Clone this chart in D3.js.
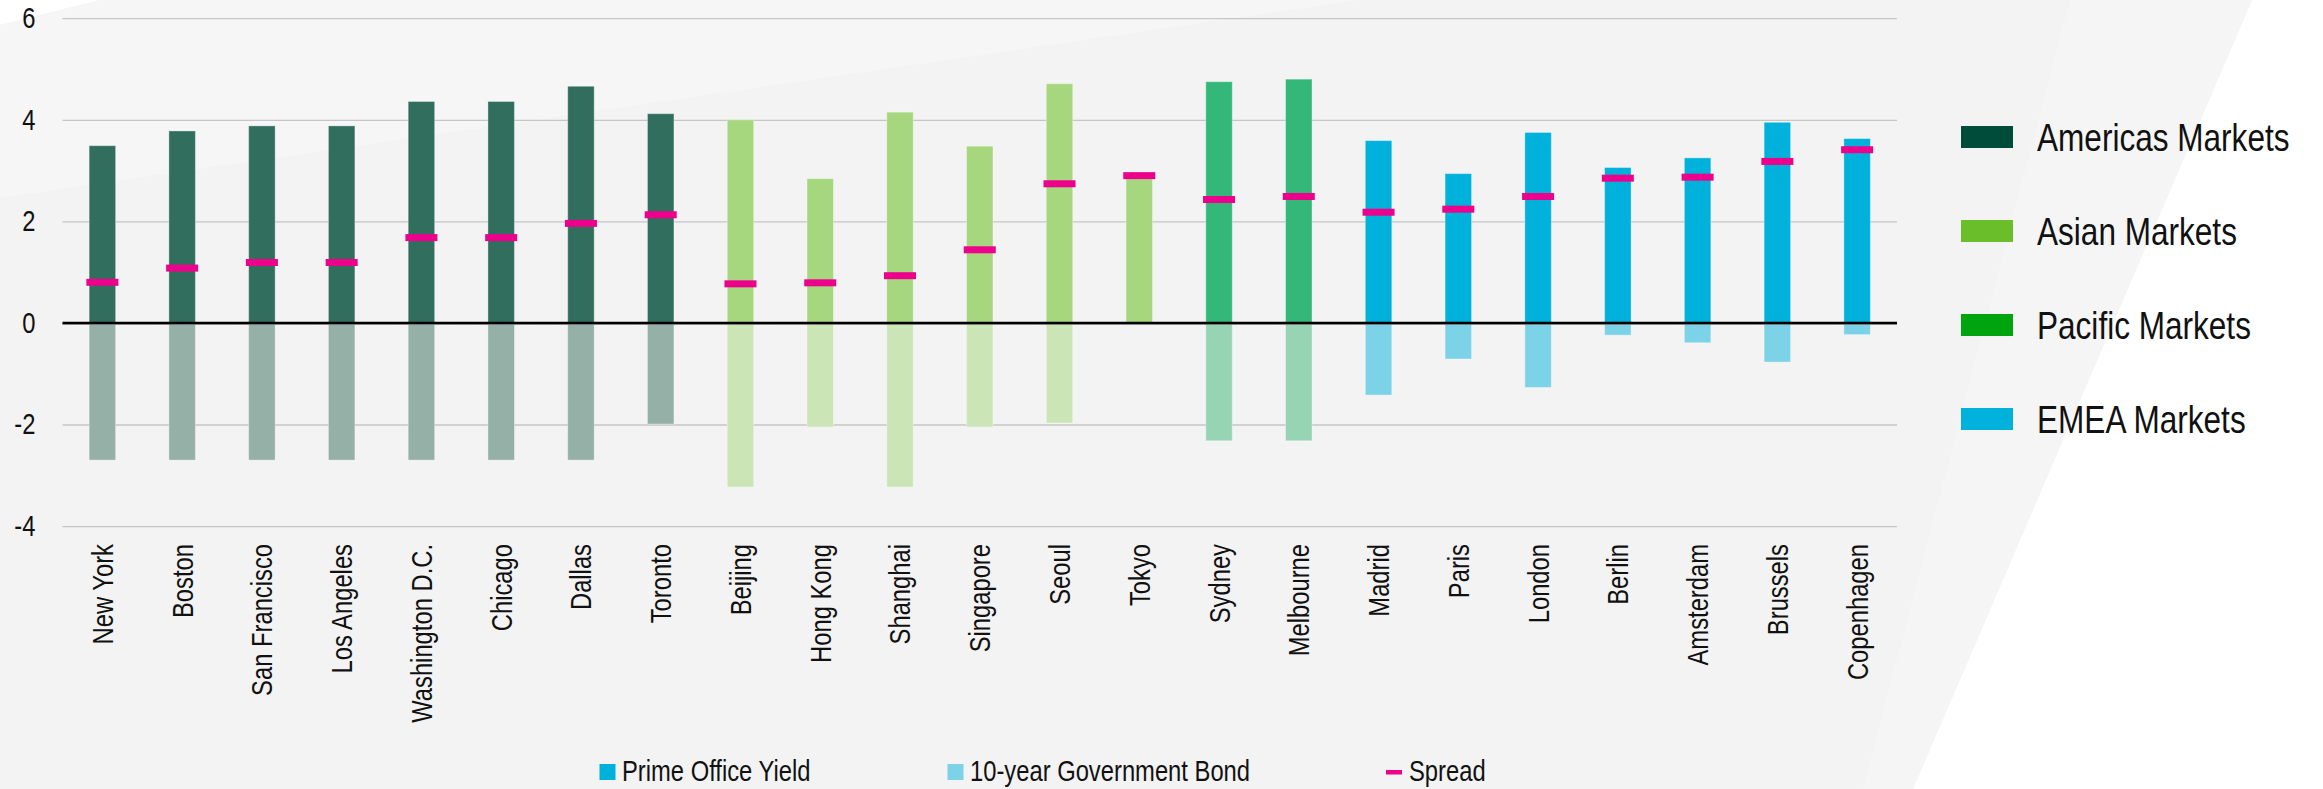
<!DOCTYPE html>
<html>
<head>
<meta charset="utf-8">
<script src="https://cdn.jsdelivr.net/npm/d3@7"></script>
<style>
  html, body { margin: 0; padding: 0; background: #ffffff; }
  svg { display: block; }
  text { font-family: "Liberation Sans", Arial, sans-serif; fill: #111; }
</style>
</head>
<body>
<svg id="chart" width="2323" height="789"></svg>
<script>
// Prime office yields vs 10-year government bonds, by market
const cities = ["New York", "Boston", "San Francisco", "Los Angeles", "Washington D.C.", "Chicago",
  "Dallas", "Toronto", "Beijing", "Hong Kong", "Shanghai", "Singapore", "Seoul", "Tokyo",
  "Sydney", "Melbourne", "Madrid", "Paris", "London", "Berlin", "Amsterdam", "Brussels", "Copenhagen"];
const regions = ["Americas", "Americas", "Americas", "Americas", "Americas", "Americas",
  "Americas", "Americas", "Asian", "Asian", "Asian", "Asian", "Asian", "Asian",
  "Pacific", "Pacific", "EMEA", "EMEA", "EMEA", "EMEA", "EMEA", "EMEA", "EMEA"];
const primeYield = [3.49, 3.78, 3.88, 3.88, 4.36, 4.36, 4.66, 4.12, 4.00, 2.84, 4.15, 3.48, 4.71, 2.90,
  4.75, 4.80, 3.59, 2.94, 3.75, 3.06, 3.25, 3.95, 3.63];
const bondYield = [2.70, 2.70, 2.70, 2.70, 2.70, 2.70, 2.70, 1.99, 3.23, 2.05, 3.23, 2.05, 1.97, 0.00,
  2.32, 2.32, 1.42, 0.71, 1.27, 0.24, 0.39, 0.77, 0.23];
const spread = [0.80, 1.08, 1.19, 1.19, 1.68, 1.68, 1.96, 2.13, 0.77, 0.79, 0.93, 1.44, 2.74, 2.90,
  2.43, 2.49, 2.18, 2.24, 2.49, 2.85, 2.87, 3.18, 3.41];
const yTicks = [-4, -2, 0, 2, 4, 6];

const regionNames = ["Americas", "Asian", "Pacific", "EMEA"];
const regionLabels = ["Americas Markets", "Asian Markets", "Pacific Markets", "EMEA Markets"];
const seriesLabels = ["Prime Office Yield", "10-year Government Bond", "Spread"];

// palette per region: [yield bar, bond bar, legend swatch]
const palette = {
  Americas: ["#326e5e", "#95b0a6", "#004c3a"],
  Asian:    ["#a6d77e", "#cce5b7", "#6abe2a"],
  Pacific:  ["#34b87a", "#96d4b3", "#00a40e"],
  EMEA:     ["#00b1dc", "#7cd2e7", "#00b1dc"]
};
const spreadColor = "#ec008c";
const NARROW = 0.82; // horizontal squeeze for a condensed face

const svg = d3.select("#chart");

// ---- background panels ----
const bg = svg.append("g");
bg.append("rect").attr("width", 2323).attr("height", 789).attr("fill", "#ffffff");
bg.append("path").attr("d", "M0,25 L100,0 L2252,0 L1913,789 L0,789 Z").attr("fill", "#f3f3f3");
bg.append("path").attr("d", "M0,25 L100,0 L1360,0 L0,198 Z").attr("fill", "#f6f6f6");
bg.append("path").attr("d", "M2070,0 L2252,0 L1913,789 L1863,789 Z").attr("fill", "#f5f5f5");

// ---- scales ----
const x = d3.scaleBand().domain(cities).range([62.5, 1897]).paddingInner(0.668).paddingOuter(0.334);
const y = d3.scaleLinear().domain([-4, 6]).range([526.1, 18.2]);

// ---- y axis with gridlines ----
const yAxis = svg.append("g").attr("transform", "translate(62.5,0)")
  .call(d3.axisLeft(y).tickValues(yTicks).tickFormat(d => String(d))
    .tickSizeInner(-(1897 - 62.5)).tickSizeOuter(0).tickPadding(27));
yAxis.select(".domain").remove();
yAxis.selectAll(".tick line").attr("stroke", "#c6c6c6").attr("stroke-width", 1.3);
yAxis.selectAll(".tick text")
  .attr("font-size", 29).attr("font-family", "Liberation Sans, Arial, sans-serif")
  .attr("fill", "#111")
  .attr("x", -27 / NARROW)
  .attr("transform", `scale(${NARROW},1)`);

// ---- bars ----
const idx = d3.range(cities.length);
const bars = svg.append("g");
// bond bars below zero
bars.selectAll("rect.bond").data(idx).join("rect").attr("class", "bond")
  .attr("x", i => x(cities[i]))
  .attr("width", x.bandwidth())
  .attr("y", y(0))
  .attr("height", i => y(-bondYield[i]) - y(0))
  .attr("fill", i => palette[regions[i]][1])
  .attr("stroke", "rgba(255,255,255,0.35)").attr("stroke-width", 1);
// prime yield bars above zero
bars.selectAll("rect.yield").data(idx).join("rect").attr("class", "yield")
  .attr("x", i => x(cities[i]))
  .attr("width", x.bandwidth())
  .attr("y", i => y(primeYield[i]))
  .attr("height", i => y(0) - y(primeYield[i]))
  .attr("fill", i => palette[regions[i]][0])
  .attr("stroke", "rgba(255,255,255,0.35)").attr("stroke-width", 1);

// zero line
svg.append("line")
  .attr("x1", 62.5).attr("x2", 1897)
  .attr("y1", y(0) + 1).attr("y2", y(0) + 1)
  .attr("stroke", "#9a9a9a").attr("stroke-width", 1.5);
svg.append("line")
  .attr("x1", 62.5).attr("x2", 1897)
  .attr("y1", y(0)).attr("y2", y(0))
  .attr("stroke", "#000").attr("stroke-width", 2.5);

// spread markers
const mw = 32, mh = 7;
svg.append("g").selectAll("rect").data(idx).join("rect")
  .attr("x", i => x(cities[i]) + x.bandwidth() / 2 - mw / 2)
  .attr("y", i => y(spread[i]) - mh / 2)
  .attr("width", mw).attr("height", mh)
  .attr("fill", spreadColor);

// ---- category axis (rotated labels) ----
const xAxis = svg.append("g").attr("transform", "translate(0,544)")
  .call(d3.axisBottom(x).tickSize(0).tickPadding(0));
xAxis.select(".domain").remove();
xAxis.selectAll(".tick text")
  .attr("font-size", 29).attr("font-family", "Liberation Sans, Arial, sans-serif")
  .attr("fill", "#111")
  .attr("x", 0).attr("y", 0).attr("dy", 0)
  .attr("text-anchor", "end")
  .attr("transform", `translate(10.5,0) rotate(-90) scale(${NARROW},1)`);

// ---- region legend (right) ----
const leg = svg.append("g");
regionNames.forEach((r, k) => {
  const cy = 137 + k * 94;
  leg.append("rect").attr("x", 1961).attr("y", cy - 11).attr("width", 52).attr("height", 22)
    .attr("fill", palette[r][2]);
  leg.append("text")
    .attr("transform", `translate(2037,${cy + 14}) scale(${NARROW},1)`)
    .attr("font-size", 38.5).attr("fill", "#111")
    .text(regionLabels[k]);
});

// ---- series legend (bottom) ----
const sleg = svg.append("g");
const sItems = [
  { sx: 599.5, tx: 622, kind: "box", color: "#00b1dc" },
  { sx: 947.5, tx: 970, kind: "box", color: "#7cd2e7" },
  { sx: 1386, tx: 1409, kind: "dash", color: spreadColor }
];
sItems.forEach((it, k) => {
  if (it.kind === "box") {
    sleg.append("rect").attr("x", it.sx).attr("y", 764).attr("width", 16).attr("height", 16).attr("fill", it.color);
  } else {
    sleg.append("rect").attr("x", it.sx).attr("y", 770).attr("width", 16).attr("height", 4.5).attr("fill", it.color);
  }
  sleg.append("text")
    .attr("transform", `translate(${it.tx},781) scale(${NARROW},1)`)
    .attr("font-size", 29).attr("fill", "#111")
    .text(seriesLabels[k]);
});
</script>
</body>
</html>
